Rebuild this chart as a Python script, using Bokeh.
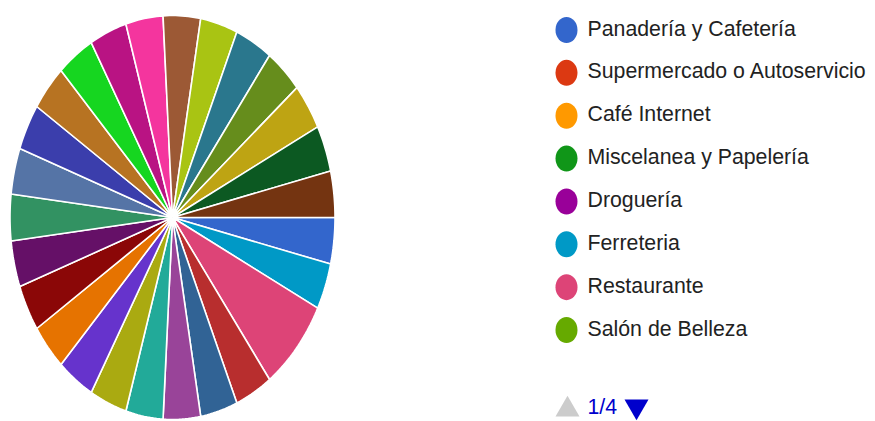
import numpy as np
from bokeh.plotting import figure
from bokeh.models import Range1d, ColumnDataSource
from bokeh.core.properties import value
from bokeh.embed import file_html
from bokeh.resources import INLINE

# ---------------- data ----------------
# slice values in data order (31 categories; zero-valued ones are not drawn)
slice_values = [1, 0, 0, 0, 0, 1, 2, 0,
                1, 1, 1, 1, 1, 1, 1, 1,
                1, 1, 1, 1, 1, 1, 1, 1,
                1, 1, 1, 1, 1, 1, 1]
slice_colors = ["#3366cc", "#dc3912", "#ff9900", "#109618", "#990099", "#0099c6",
                "#dd4477", "#66aa00", "#b82e2e", "#316395", "#994499", "#22aa99",
                "#aaaa11", "#6633cc", "#e67300", "#8b0707", "#651067", "#329262",
                "#5574a6", "#3b3eac", "#b77322", "#16d620", "#b91383", "#f4359e",
                "#9c5935", "#a9c413", "#2a778d", "#668d1c", "#bea413", "#0c5922",
                "#743411"]
legend_labels = ["Panadería y Cafetería", "Supermercado o Autoservicio", "Café Internet",
                 "Miscelanea y Papelería", "Droguería", "Ferreteria", "Restaurante",
                 "Salón de Belleza"]
page_label = "1/4"

# ---------------- layout constants (pixel space, y measured from top) ----------------
W, H = 875, 421
CX, CY, RX, RY = 172.0, 217.0, 162.5, 202.0
LEG_X_DOT, LEG_X_TEXT = 566.0, 587.0
LEG_Y0, LEG_DY = 29.5, 42.86
FONT = value("Liberation Sans")


def fy(y):
    return H - y


p = figure(width=W, height=H, x_range=Range1d(0, W), y_range=Range1d(0, H),
           output_backend="svg", toolbar_location=None, min_border=0,
           background_fill_color="white", border_fill_color="white")
p.axis.visible = False
p.grid.visible = False
p.outline_line_color = None

# pie slices as patches (start at 3 o'clock, clockwise)
total = float(sum(slice_values))
xs, ys, cols = [], [], []
acc = 0.0
for v, c in zip(slice_values, slice_colors):
    if v <= 0:
        continue
    a0 = 2 * np.pi * acc / total
    a1 = 2 * np.pi * (acc + v) / total
    acc += v
    n = max(8, int(np.degrees(a1 - a0)))
    t = np.linspace(a0, a1, n)
    xs.append([CX] + list(CX + RX * np.cos(t)))
    ys.append([fy(CY)] + list(fy(CY + RY * np.sin(t))))
    cols.append(c)
p.patches(xs=xs, ys=ys, fill_color=cols, line_color="white", line_width=1.6)

# legend (first page)
n_leg = len(legend_labels)
leg_src = ColumnDataSource(dict(
    x=[LEG_X_DOT] * n_leg,
    y=[fy(LEG_Y0 + LEG_DY * i) for i in range(n_leg)],
    tx=[LEG_X_TEXT] * n_leg,
    ty=[fy(LEG_Y0 - 1.5 + LEG_DY * i) for i in range(n_leg)],
    label=legend_labels,
    color=slice_colors[:n_leg]))
p.ellipse(x="x", y="y", width=22, height=26, fill_color="color", line_color=None, source=leg_src)
p.text(x="tx", y="ty", text="label", source=leg_src, text_color="#222222",
       text_font=FONT, text_font_size="21.3px",
       text_baseline="middle", text_align="left")

# pagination
p.scatter(x=[567], y=[fy(409)], marker="triangle", size=24, fill_color="#cccccc", line_color=None)
p.scatter(x=[636], y=[fy(406)], marker="inverted_triangle", size=24, fill_color="#0000cc", line_color=None)
p.text(x=[587], y=[fy(406)], text=[page_label], text_color="#0000cc",
       text_font=FONT, text_font_size="21.3px",
       text_baseline="middle", text_align="left")

open("out.html", "w").write(file_html(p, INLINE))
